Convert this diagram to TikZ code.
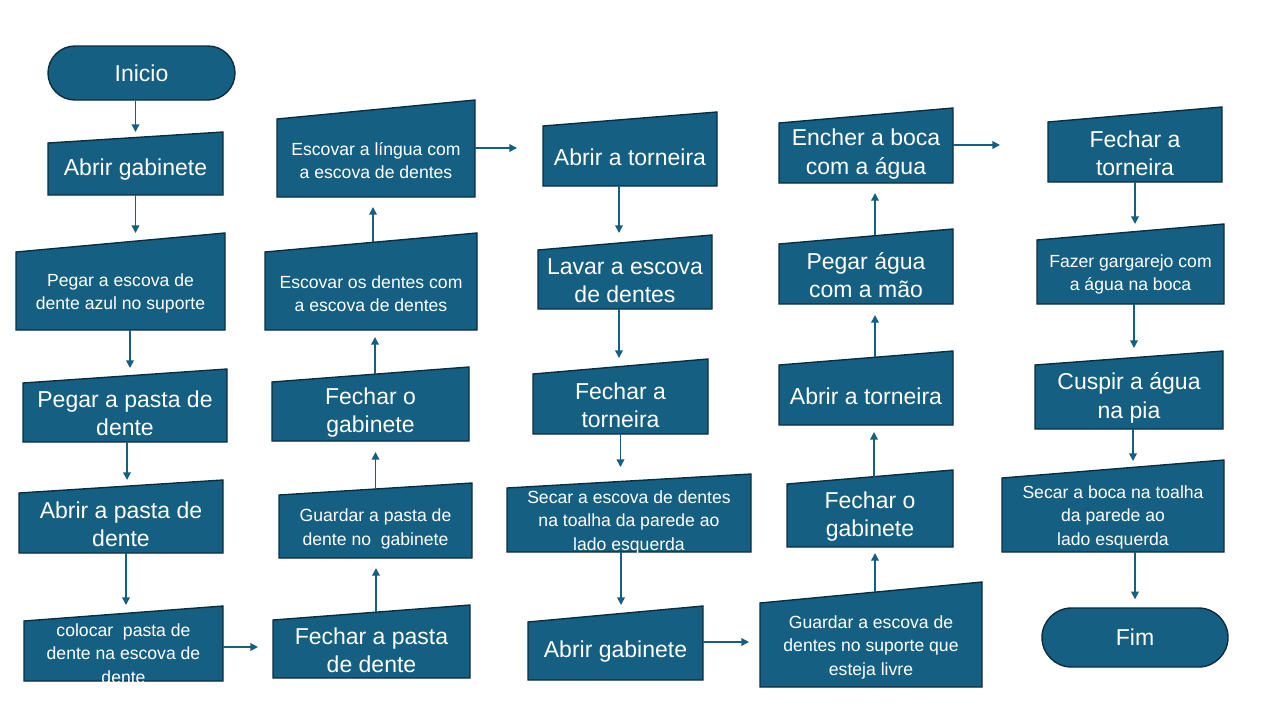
\documentclass[tikz,border=0pt]{standalone}
\usepackage{fontspec}
\setmainfont{Liberation Sans}
\usetikzlibrary{arrows.meta,calc}
\pgfdeclarelayer{background}
\pgfsetlayers{background,main}
\definecolor{boxblue}{HTML}{156082}
\definecolor{boxline}{HTML}{0A2E40}
\definecolor{arrowblue}{HTML}{156082}
\tikzset{
  holder/.style={inner sep=0pt, outer sep=0pt},
  boxtext/.style={inner sep=0pt, text=white, align=center, anchor=center},
  big/.style={font=\fontsize{11.5}{14.2}\selectfont, yshift=-0.5pt},
  small/.style={font=\fontsize{8.8}{11.7}\selectfont, yshift=-1.2pt},
  boxshape/.style={fill=boxblue, draw=boxline, line width=0.7pt},
  arr/.style={draw=arrowblue, line width=0.75pt, -{Triangle[length=3.8pt,width=3.8pt]}},
  term/.style={fill=boxblue, draw=boxline, line width=0.7pt, text=white, inner sep=0pt,
    font=\fontsize{11.5}{13.5}\selectfont}
}
% name, left, right, top-right, top-left, bottom, font style, text
\newcommand\mibox[8]{%
  \node[holder, minimum width={(#3-#2)*0.5pt}, minimum height={(#6-#5)*0.5pt},
        label={[boxtext,#7,anchor=center]center:{#8}}] (#1) at ({(#2+#3)/2},{(#5+#6)/2}) {};
  \begin{pgfonlayer}{background}
    \path[boxshape] (#1.south west) -- (#1.north west) -- ($(#1.north east)+(0,{#4-#5})$)
      -- (#1.south east) -- cycle;
  \end{pgfonlayer}
}
\begin{document}
\begin{tikzpicture}[x=0.5pt,y=-0.5pt]
\useasboundingbox (0,0) rectangle (1280,720);

% terminals
\node[term, minimum width=93.5pt, minimum height=27pt, rounded corners=13.5pt] (start) at (141.5,73) {Inicio};
\node[term, minimum width=93pt, minimum height=29.5pt, rounded corners=14.75pt] (end) at (1135,637.5) {Fim};

% column 1
\mibox{b1}{48}{223}{132}{143}{195}{big}{Abrir gabinete}
\mibox{b2}{16}{225}{233}{252}{330}{small}{Pegar a escova de\\dente azul no suporte}
\mibox{b3}{23}{227}{369}{383}{442}{big}{Pegar a pasta de\\dente}
\mibox{b4}{19}{223}{480}{493}{553}{big}{Abrir a pasta de\\dente}
\mibox{b5}{24}{223}{606}{621}{681}{small}{colocar\ \ pasta de\\dente na escova de\\dente}

% column 2
\mibox{c1}{273}{470}{605}{620}{678}{big}{Fechar a pasta\\de dente}
\mibox{c2}{279}{472}{483}{495}{558}{small}{Guardar a pasta de\\dente no\ \ gabinete}
\mibox{c3}{272}{469}{367}{382}{441}{big}{Fechar o\\gabinete}
\mibox{c4}{265}{477}{233}{252}{330}{small}{Escovar os dentes com\\a escova de dentes}
\mibox{c5}{277}{475}{100}{119}{197}{small}{Escovar a língua com\\a escova de dentes}

% column 3
\mibox{d1}{543}{717}{112}{126}{186}{big}{Abrir a torneira}
\mibox{d2}{538}{712}{235}{250}{309}{big}{Lavar a escova\\de dentes}
\mibox{d3}{533}{708}{359}{374}{434}{big}{Fechar a\\torneira}
\mibox{d4}{507}{751}{474}{488}{552}{small}{Secar a escova de dentes\\na toalha da parede ao\\lado esquerda}
\mibox{d5}{528}{703}{606}{622}{680}{big}{Abrir gabinete}

% column 4
\mibox{e1}{760}{982}{582}{603}{687}{small}{Guardar a escova de\\dentes no suporte que\\esteja livre}
\mibox{e2}{787}{953}{470}{484}{547}{big}{Fechar o\\gabinete}
\mibox{e3}{779}{953}{351}{365}{425}{big}{Abrir a torneira}
\mibox{e4}{779}{953}{229}{244}{304}{big}{Pegar água\\com a mão}
\mibox{e5}{779}{953}{108}{123}{183}{big}{Encher a boca\\com a água}

% column 5
\mibox{f1}{1048}{1222}{107}{122}{182}{big}{Fechar a\\torneira}
\mibox{f2}{1037}{1224}{224}{240}{304}{small}{Fazer gargarejo com\\a água na boca}
\mibox{f3}{1035}{1223}{351}{365}{429}{big}{Cuspir a água\\na pia}
\mibox{f4}{1002}{1224}{460}{478}{552}{small}{Secar a boca na toalha\\da parede ao\\lado esquerda}

% connectors
\draw[arr, shorten >=5.5pt] (b1.north |- start.south) -- (b1.north);
\draw[arr, shorten >=9.5pt] (b1.south) -- (b1.south |- b2.north);
\draw[arr, shorten >=7.5pt] ($(b2.south)+(9.5,0)$) -- ($(b2.south |- b3.north)+(9.5,0)$);
\draw[arr, shorten >=6.5pt] ($(b3.south)+(2,0)$) -- ($(b3.south |- b4.north)+(2,0)$);
\draw[arr, shorten >=8pt] ($(b4.south)+(5,0)$) -- ($(b4.south |- b5.north)+(5,0)$);
\draw[arr, shorten >=7.5pt] ($(b5.east)+(0,-4)$) -- ($(b5.east -| c1.west)+(0,-4)$);

\draw[arr, shorten >=5pt] ($(c1.north)+(4.5,-8)$) -- ($(c1.north |- c2.south)+(4.5,0)$);
\draw[arr, shorten >=5.5pt] ($(c2.north)+(0,-6)$) -- (c2.north |- c3.south);
\draw[arr, shorten >=3.5pt] ($(c3.north)+(4.5,-8)$) -- ($(c3.north |- c4.south)+(4.5,0)$);
\draw[arr, shorten >=5pt] ($(c4.north)+(2,-10)$) -- ($(c4.north |- c5.south)+(2,0)$);
\draw[arr, shorten >=13pt] ($(c5.east)+(0,-10)$) -- ($(c5.east -| d1.west)+(0,-10)$);

\draw[arr, shorten >=8.5pt] ($(d1.south)+(-11,0)$) -- ($(d1.south |- d2.north)+(-11,0)$);
\draw[arr, shorten >=8pt] ($(d2.south)+(-6,0)$) -- ($(d2.south |- d3.north)+(-6,0)$);
\draw[arr, shorten >=10.5pt] (d3.south) -- (d3.south |- d4.north);
\draw[arr, shorten >=8.5pt] ($(d4.south)+(-8,0)$) -- ($(d4.south |- d5.north)+(-8,0)$);
\draw[arr, shorten >=5.5pt] ($(d5.east)+(0,-9)$) -- ($(d5.east -| e1.west)+(0,-9)$);

\draw[arr, shorten >=3pt] ($(e1.north)+(4,-11)$) -- ($(e1.north |- e2.south)+(4,0)$);
\draw[arr, shorten >=3.5pt] ($(e2.north)+(4,-7)$) -- ($(e2.north |- e3.south)+(4,0)$);
\draw[arr, shorten >=5.5pt] ($(e3.north)+(9,-8)$) -- ($(e3.north |- e4.south)+(9,0)$);
\draw[arr, shorten >=5pt] ($(e4.north)+(9,-9)$) -- ($(e4.north |- e5.south)+(9,0)$);
\draw[arr, shorten >=24pt] ($(e5.east)+(0,-8)$) -- ($(e5.east -| f1.west)+(0,-8)$);

\draw[arr, shorten >=8pt] (f1.south) -- (f1.south |- f2.north);
\draw[arr, shorten >=8.5pt] ($(f2.south)+(3.5,0)$) -- ($(f2.south |- f3.north)+(3.5,0)$);
\draw[arr, shorten >=8.5pt] ($(f3.south)+(4,0)$) -- ($(f3.south |- f4.north)+(4,0)$);
\draw[arr, shorten >=4pt] (end.north |- f4.south) -- (end.north);
\end{tikzpicture}
\end{document}
